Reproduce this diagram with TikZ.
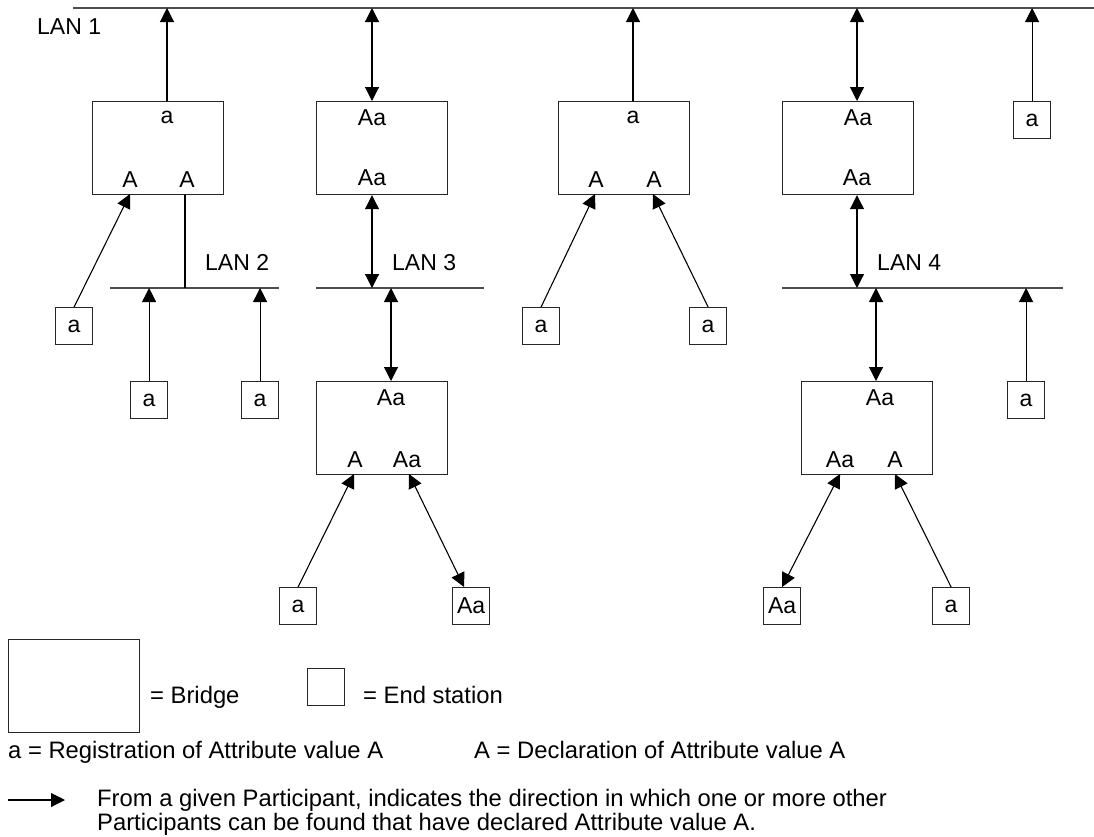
\documentclass[tikz,border=0pt]{standalone}
\usepackage{fontspec}
\setmainfont{Liberation Sans}
\usetikzlibrary{arrows.meta,calc}

\tikzset{
  >={Triangle[length=14pt,width=14pt]},
  bridge/.style={draw=black!85, line width=1.2pt, anchor=north west, inner sep=0pt,
                 minimum width=131pt, minimum height=93pt},
  station/.style={draw=black!85, line width=1.2pt, anchor=north west, inner sep=0pt,
                  minimum width=37pt, minimum height=37pt, font=\lbl},
  lan/.style={draw=black!70, line width=1.6pt},
  link/.style={draw=black, line width=1.1pt},
  lbl/.style={anchor=base, inner sep=0pt, font=\lbl},
  txt/.style={anchor=base west, inner sep=0pt, font=\lbl},
  keytxt/.style={anchor=base west, inner sep=0pt, font=\keyfont},
}
\newcommand{\lbl}{\fontsize{23}{24}\selectfont}
\newcommand{\keyfont}{\fontsize{23.8}{24}\selectfont}

\begin{document}
\begin{tikzpicture}[x=1pt, y=-1pt]
\useasboundingbox (0,0) rectangle (1094,836);

% ---- LAN segments ----
\coordinate (lan1w) at (73,8);    \coordinate (lan1e) at (1094,8);
\coordinate (lan2w) at (110,288); \coordinate (lan2e) at (279,288);
\coordinate (lan3w) at (316,288); \coordinate (lan3e) at (484,288);
\coordinate (lan4w) at (782,288); \coordinate (lan4e) at (1063,288);
\draw[lan] (lan1w) -- (lan1e);
\draw[lan] (lan2w) -- (lan2e);
\draw[lan] (lan3w) -- (lan3e);
\draw[lan] (lan4w) -- (lan4e);

\node[txt] (lan1lbl) at (37,34)  {LAN 1};
\node[txt] (lan2lbl) at (205,270) {LAN 2};
\node[txt] (lan3lbl) at (392,270) {LAN 3};
\node[txt] (lan4lbl) at (877,270) {LAN 4};

% ---- Bridges ----
\node[bridge] (b1) at (92,101)  {};
\node[bridge] (b2) at (316,101) {};
\node[bridge] (b4) at (558,101) {};
\node[bridge] (b5) at (782,101) {};
\node[bridge] (b3) at (316,381) {};
\node[bridge] (b6) at (801,381) {};

% port labels
\node[lbl] (b1t) at (167,123) {a};
\node[lbl] (b1l) at (130,187) {A};
\node[lbl] (b1r) at (187,187) {A};

\node[lbl] (b2t) at (372,125) {Aa};
\node[lbl] (b2b) at (372,185) {Aa};

\node[lbl] (b4t) at (633,123) {a};
\node[lbl] (b4l) at (596,187) {A};
\node[lbl] (b4r) at (654,187) {A};

\node[lbl] (b5t) at (858,125) {Aa};
\node[lbl] (b5b) at (857,185) {Aa};

\node[lbl] (b3t) at (391,405) {Aa};
\node[lbl] (b3l) at (355,467) {A};
\node[lbl] (b3r) at (407,467) {Aa};

\node[lbl] (b6t) at (880,405) {Aa};
\node[lbl] (b6l) at (840,467) {Aa};
\node[lbl] (b6r) at (895,467) {A};

% ---- End stations ----
\node[station] (e1)  at (55,307)   {a};
\node[station] (e2)  at (130,381)  {a};
\node[station] (e3)  at (241,381)  {a};
\node[station] (e4)  at (522,307)  {a};
\node[station] (e5)  at (689,307)  {a};
\node[station] (e6)  at (1013,101) {a};
\node[station] (e7)  at (1007,381) {a};
\node[station] (e8)  at (279,587)  {a};
\node[station] (e9)  at (452,587)  {Aa};
\node[station] (e10) at (763,587)  {Aa};
\node[station] (e11) at (932,587)  {a};

% ---- attachment points ----
\coordinate (t1) at (167,8);
\coordinate (t2) at (372,8);
\coordinate (t4) at (633,8);
\coordinate (t5) at (857,8);
\coordinate (t6) at (1031,8);
\coordinate (d1) at (185,288);
\coordinate (d2) at (372,288);
\coordinate (u3) at (391,288);
\coordinate (d5) at (857,288);
\coordinate (u6) at (876,288);
\coordinate (p1l) at (130,194);
\coordinate (p4l) at (595,194);
\coordinate (p4r) at (653,194);
\coordinate (p3l) at (354,474);
\coordinate (p3r) at (409,474);
\coordinate (p6l) at (840,474);
\coordinate (p6r) at (895,474);

% ---- connectors ----
\draw[link,->]  (t1 |- b1.north) -- (t1);
\draw[link,<->] (t2) -- (t2 |- b2.north);
\draw[link,->]  (t4 |- b4.north) -- (t4);
\draw[link,<->] (t5) -- (t5 |- b5.north);
\draw[link,->]  (e6.north) -- (e6.north |- t6);

\draw[link]     (d1 |- b1.south) -- (d1);
\draw[link,->]  (e1.north) -- (p1l);
\draw[link,->]  (e2.north) -- (e2.north |- d1);
\draw[link,->]  (e3.north) -- (e3.north |- d1);

\draw[link,<->] (d2 |- b2.south) -- (d2);
\draw[link,<->] (u3) -- (u3 |- b3.north);
\draw[link,->]  (e8.north) -- (p3l);
\draw[link,<->] (p3r) -- ($(e9.north)+(-7,0)$);

\draw[link,->]  (e4.north) -- (p4l);
\draw[link,->]  (e5.north) -- (p4r);

\draw[link,<->] (d5 |- b5.south) -- (d5);
\draw[link,<->] (u6) -- (u6 |- b6.north);
\draw[link,->]  (e7.north) -- (e7.north |- u6);
\draw[link,<->] (p6l) -- (e10.north);
\draw[link,->]  (e11.north) -- (p6r);

% ---- key ----
\node[bridge]  (kb) at (8,639) {};
\node[keytxt]  (kbt) at (150,703) {= Bridge};
\node[station] (ks) at (307,668) {};
\node[keytxt]  (kst) at (363,703) {= End station};
\node[keytxt]  (kreg) at (8,758)  {a = Registration of Attribute value A};
\node[keytxt]  (kdec) at (474,758) {A = Declaration of Attribute value A};
\coordinate (ka) at (8,800);
\coordinate (kz) at (65,800);
\draw[link,->] (ka) -- (kz);
\node[keytxt] (kar1) at (97,806) {From a given Participant, indicates the direction in which one or more other};
\node[keytxt] (kar2) at (97,830) {Participants can be found that have declared Attribute value A.};
\end{tikzpicture}
\end{document}
